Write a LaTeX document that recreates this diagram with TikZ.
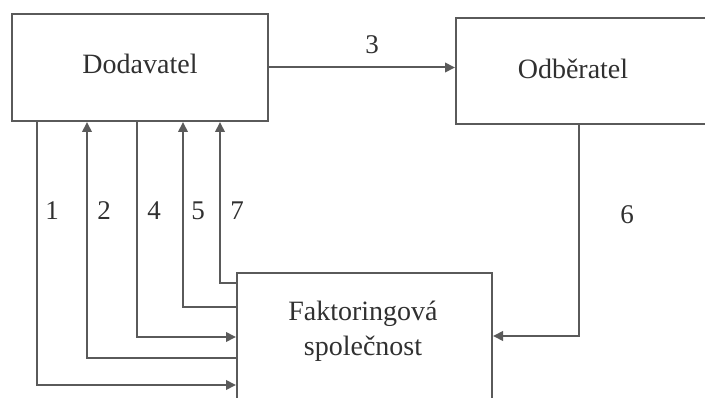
\documentclass[tikz,border=0pt]{standalone}
\usepackage{fontspec}
\setmainfont{Liberation Serif}
\usetikzlibrary{arrows.meta}
\definecolor{linegray}{HTML}{5A5A5A}
\definecolor{txtgray}{HTML}{303030}
\tikzset{
  box/.style={draw=linegray, line width=2pt, rectangle, inner sep=0pt},
  lbl/.style={text=txtgray, font=\fontsize{28}{35}\selectfont, inner sep=0pt, align=center},
  num/.style={text=txtgray, font=\fontsize{27}{30}\selectfont, inner sep=0pt},
  flow/.style={draw=linegray, line width=2pt},
  tip/.style={-{Triangle[length=10pt,width=9.5pt]}, flow},
}
\begin{document}
\begin{tikzpicture}[x=1pt, y=-1pt]
  \useasboundingbox (0,0) rectangle (705,398);
  \clip (0,0) rectangle (705,398);

  % the three parties
  \node[box, minimum width=256pt, minimum height=107pt] (dod) at (140,67.5) {};
  \node[lbl] (dodtext) at (140,64) {Dodavatel};
  \node[box, minimum width=264pt, minimum height=106pt] (odb) at (588,71) {};
  \node[lbl] (odbtext) at (573,69) {Odběratel};
  \node[box, minimum width=255pt, minimum height=150pt] (fak) at (364.5,348) {};
  \node[lbl] (faktext) at (363,331) {Faktoringová\\společnost};

  % vertical lanes and horizontal levels
  \coordinate (x1) at (37,0);
  \coordinate (x2) at (87,0);
  \coordinate (x4) at (137,0);
  \coordinate (x5) at (183,0);
  \coordinate (x7) at (220,0);
  \coordinate (x6) at (579,0);
  \coordinate (y1) at (0,385);
  \coordinate (y2) at (0,358);
  \coordinate (y4) at (0,337);
  \coordinate (y5) at (0,307);
  \coordinate (y7) at (0,283);
  \coordinate (y6) at (0,336);

  % flows
  \draw[tip] (dod.south -| x1) |- (fak.west |- y1);
  \draw[tip] (fak.west |- y2) -| (dod.south -| x2);
  \draw[tip] (dod.east) -- (odb.west |- dod.east);
  \draw[tip] (dod.south -| x4) |- (fak.west |- y4);
  \draw[tip] (fak.west |- y5) -| (dod.south -| x5);
  \draw[tip] (odb.south -| x6) |- (fak.east |- y6);
  \draw[tip] (fak.west |- y7) -| (dod.south -| x7);

  % step numbers
  \node[num] (n1) at (52,211) {1};
  \node[num] (n2) at (104,211) {2};
  \node[num] (n3) at (372,45) {3};
  \node[num] (n4) at (154,211) {4};
  \node[num] (n5) at (198,211) {5};
  \node[num] (n6) at (627,215) {6};
  \node[num] (n7) at (237,211) {7};
\end{tikzpicture}
\end{document}
